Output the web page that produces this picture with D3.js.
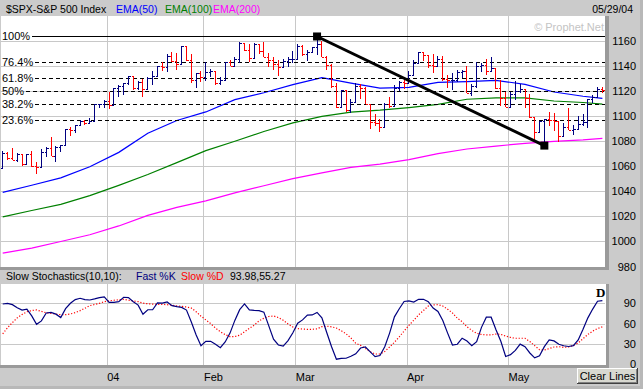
<!DOCTYPE html>
<html>
<head>
<meta charset="utf-8">
<script src="https://cdn.jsdelivr.net/npm/d3@7"></script>
<style>
  body { margin: 0; background: #cbcbcb; }
  svg { display: block; font-family: Arial, "Liberation Sans", sans-serif; }
</style>
</head>
<body>
<svg id="chart"></svg>
<script>
// trading days shown on the chart
var days = [
  "2003-12-01","2003-12-02","2003-12-03","2003-12-04","2003-12-05","2003-12-08","2003-12-09","2003-12-10","2003-12-11","2003-12-12",
  "2003-12-15","2003-12-16","2003-12-17","2003-12-18","2003-12-19","2003-12-22","2003-12-23","2003-12-24","2003-12-26","2003-12-29",
  "2003-12-30","2003-12-31",
  "2004-01-02","2004-01-05","2004-01-06","2004-01-07","2004-01-08","2004-01-09","2004-01-12","2004-01-13","2004-01-14","2004-01-15",
  "2004-01-16","2004-01-20","2004-01-21","2004-01-22","2004-01-23","2004-01-26","2004-01-27","2004-01-28","2004-01-29","2004-01-30",
  "2004-02-02","2004-02-03","2004-02-04","2004-02-05","2004-02-06","2004-02-09","2004-02-10","2004-02-11","2004-02-12","2004-02-13",
  "2004-02-17","2004-02-18","2004-02-19","2004-02-20","2004-02-23","2004-02-24","2004-02-25","2004-02-26","2004-02-27",
  "2004-03-01","2004-03-02","2004-03-03","2004-03-04","2004-03-05","2004-03-08","2004-03-09","2004-03-10","2004-03-11","2004-03-12",
  "2004-03-15","2004-03-16","2004-03-17","2004-03-18","2004-03-19","2004-03-22","2004-03-23","2004-03-24","2004-03-25","2004-03-26",
  "2004-03-29","2004-03-30","2004-03-31",
  "2004-04-01","2004-04-02","2004-04-05","2004-04-06","2004-04-07","2004-04-08","2004-04-12","2004-04-13","2004-04-14","2004-04-15",
  "2004-04-16","2004-04-19","2004-04-20","2004-04-21","2004-04-22","2004-04-23","2004-04-26","2004-04-27","2004-04-28","2004-04-29",
  "2004-04-30",
  "2004-05-03","2004-05-04","2004-05-05","2004-05-06","2004-05-07","2004-05-10","2004-05-11","2004-05-12","2004-05-13","2004-05-14",
  "2004-05-17","2004-05-18","2004-05-19","2004-05-20","2004-05-21","2004-05-24","2004-05-25","2004-05-26","2004-05-27","2004-05-28"
];

var opens = [
  1058.2,1070.1,1066.6,1064.7,1069.7,1061.5,1069.3,1060.2,1059.1,1071.2,1074.1,1068.0,1075.1,1076.5,1089.2,1088.7,1092.9,1096.0,1094.0,1095.9,1109.5,1109.6,
  1111.9,1108.5,1122.2,1123.7,1126.3,1131.9,1121.9,1127.2,1121.2,1130.5,1132.1,1139.8,1138.8,1147.6,1143.9,1141.6,1155.4,1144.1,1128.5,1134.1,
  1131.1,1135.3,1136.0,1126.5,1128.6,1142.8,1139.8,1145.5,1157.8,1152.1,1145.8,1157.0,1151.8,1147.1,1144.1,1141.0,1139.1,1143.7,1144.9,
  1144.9,1156.0,1149.1,1151.0,1154.9,1156.9,1147.2,1140.6,1123.9,1106.8,1120.6,1104.5,1110.7,1123.8,1122.3,1109.8,1095.4,1094.0,1091.3,1109.2,1108.1,1122.5,1127.0,
  1126.2,1132.2,1141.8,1150.6,1148.2,1140.5,1139.3,1145.2,1129.4,1128.2,1128.8,1134.6,1135.8,1118.2,1124.1,1139.9,1140.6,1135.5,1138.1,1122.4,1113.9,
  1107.3,1117.5,1119.6,1121.5,1114.0,1098.7,1087.1,1095.5,1097.3,1096.4,1095.7,1084.1,1091.5,1088.7,1089.2,1093.6,1095.4,1113.1,1114.9,1121.3
];
var highs = [
  1071.7,1071.2,1074.3,1070.4,1069.7,1069.6,1071.9,1063.0,1073.6,1074.8,1082.8,1075.9,1076.5,1089.5,1091.1,1092.9,1096.9,1096.4,1098.5,1109.5,1109.8,1112.6,
  1118.9,1122.4,1124.5,1126.3,1131.9,1131.9,1127.9,1129.1,1130.8,1136.0,1139.8,1142.9,1149.2,1150.5,1150.3,1155.4,1155.4,1149.1,1134.4,1135.5,
  1142.5,1137.4,1136.0,1131.2,1142.8,1144.5,1147.0,1158.9,1157.8,1156.9,1158.2,1157.4,1158.6,1149.8,1146.7,1144.2,1145.2,1147.2,1151.7,
  1157.5,1156.5,1152.4,1154.9,1163.2,1159.9,1147.3,1141.5,1126.0,1120.6,1120.6,1113.8,1125.8,1125.5,1122.7,1109.8,1101.5,1097.2,1110.4,1115.3,1124.4,1127.6,1130.8,
  1135.7,1144.8,1150.6,1150.6,1148.2,1149.0,1147.3,1147.8,1132.5,1134.1,1136.8,1136.2,1139.3,1125.7,1142.8,1141.9,1145.1,1146.6,1138.1,1128.4,1119.3,
  1118.7,1127.7,1125.1,1121.5,1117.3,1098.7,1095.7,1097.6,1102.8,1102.1,1095.7,1094.1,1105.9,1092.6,1099.6,1101.3,1113.8,1116.7,1123.0,1122.7
];
var lows = [
  1058.2,1065.2,1064.6,1063.2,1060.1,1060.9,1059.2,1053.4,1059.1,1067.6,1068.0,1063.2,1071.1,1076.5,1084.2,1086.1,1091.8,1092.7,1094.0,1095.9,1106.4,1106.2,
  1105.1,1108.5,1115.0,1116.4,1124.9,1120.9,1120.9,1115.2,1121.2,1124.3,1132.1,1135.4,1134.6,1143.0,1136.9,1141.0,1144.0,1126.5,1122.4,1127.3,
  1127.9,1131.3,1124.7,1124.4,1127.9,1139.8,1138.7,1142.3,1151.4,1143.2,1145.8,1149.5,1146.9,1139.0,1136.7,1131.4,1138.3,1138.6,1141.8,
  1144.9,1147.7,1143.8,1149.8,1148.8,1146.9,1136.8,1122.5,1105.9,1106.8,1103.4,1102.6,1110.7,1113.3,1109.7,1089.5,1091.6,1087.2,1091.3,1106.1,1108.1,1119.7,1121.5,
  1126.2,1132.2,1141.6,1143.3,1138.4,1134.5,1139.3,1127.7,1122.2,1120.8,1126.9,1129.8,1118.1,1116.0,1121.9,1134.8,1132.9,1135.5,1121.7,1108.0,1107.2,
  1107.3,1112.9,1117.9,1106.3,1098.6,1079.6,1087.1,1076.3,1091.8,1088.2,1079.4,1084.1,1088.5,1085.0,1089.2,1091.8,1090.7,1109.9,1114.9,1118.1
];
var closes = [
  1070.1,1066.6,1064.7,1069.7,1061.5,1069.3,1060.2,1059.1,1071.2,1074.1,1068.0,1075.1,1076.5,1089.2,1088.7,1092.9,1096.0,1094.0,1095.9,1109.5,1109.6,1111.9,
  1108.5,1122.2,1123.7,1126.3,1131.9,1121.9,1127.2,1121.2,1130.5,1132.1,1139.8,1138.8,1147.6,1143.9,1141.6,1155.4,1144.1,1128.5,1134.1,1131.1,
  1135.3,1136.0,1126.5,1128.6,1142.8,1139.8,1145.5,1157.8,1152.1,1145.8,1157.0,1151.8,1147.1,1144.1,1141.0,1139.1,1143.7,1144.9,1144.9,
  1156.0,1149.1,1151.0,1154.9,1156.9,1147.2,1140.6,1123.9,1106.8,1120.6,1104.5,1110.7,1123.8,1122.3,1109.8,1095.4,1094.0,1091.3,1109.2,1108.1,1122.5,1127.0,1126.2,
  1132.2,1141.8,1150.6,1148.2,1140.5,1139.3,1145.2,1129.4,1128.2,1128.8,1134.6,1135.8,1118.2,1124.1,1139.9,1140.6,1135.5,1138.1,1122.4,1113.9,1107.3,
  1117.5,1119.6,1121.5,1114.0,1098.7,1087.1,1095.5,1097.3,1096.4,1095.7,1084.1,1091.5,1088.7,1089.2,1093.6,1095.4,1113.1,1114.9,1121.3,1120.7
];

// moving averages at every 6th bar
var emaIdx = [0, 6, 12, 18, 24, 30, 36, 42, 48, 54, 60, 66, 72, 78, 84, 90, 96, 102, 108, 114, 120, 124];
var ema50  = [1039.1,1044.7,1050.6,1059.4,1070.9,1086.2,1096.3,1103.1,1112.9,1118.4,1124.8,1130.4,1126.0,1122.0,1122.7,1126.6,1127.2,1128.3,1125.0,1119.0,1115.6,1113.9];
var ema100 = [1019.5,1024.6,1029.5,1036.4,1044.6,1053.3,1062.7,1072.3,1079.8,1087.5,1094.4,1099.5,1103.0,1104.5,1106.6,1109.2,1113.2,1114.3,1114.3,1111.8,1110.6,1109.4];
var ema200 = [990.7,994.7,999.9,1005.3,1012.3,1020.7,1027.1,1032.3,1038.7,1044.3,1050.0,1054.5,1058.9,1061.6,1065.1,1069.9,1073.6,1075.9,1078.1,1079.6,1080.8,1082.1];

// slow stochastics (10,10)
var stochK = [
  89,90,88,83.5,80,81.5,71.5,59,64,75.7,76.7,74,69,82,90,95.5,97.4,95.5,94.9,96.5,98.3,99.6,
  91.5,91.5,92.5,98.9,98.5,92.2,87.3,73.8,80.5,80.5,90.5,90.3,92,86.5,85,84,80,62.5,43.3,27.5,
  33.8,34,29.5,24.5,33,46,64.8,80.6,89,80.2,79.5,79.2,77,57,37,28.5,26.8,35,46.5,
  60.6,65.5,72.7,72.8,76.5,68.5,47,26,7.5,8.6,8.9,11.8,15.5,24,25.5,18.4,11.3,13,26,46,70,82,92.7,
  93.5,91.8,95.9,95.9,92.5,83,78,64.6,46,28.5,29.6,38.5,34.3,27.6,33.4,54.5,69.5,69.5,51,34,11.5,
  14.2,20.5,29.8,26.1,16.7,9.5,12.5,26,36,34.5,29.5,27.4,26.3,27.5,36,51.7,68.5,81.5,93,93.98
];
var stochD = [
  45,54,61.5,68.5,73.5,77.5,79.3,80.2,78,76,75,74,73.2,73.2,74.3,76.2,79.2,82.7,86.5,88.3,90,92.3,
  93.7,94.5,95.2,95.9,94.5,93.6,92.5,90.2,89.3,88.8,88.5,88.5,88,87.1,86.1,85.4,84.6,83,77.5,71,
  65.5,60,53.5,48,43.8,40.8,40.8,43,48,53,57.8,64,68,70.5,71.3,69,65,59.5,55,
  52.6,52,51.6,51.6,52.3,55.6,56.3,55.3,53.5,49.5,45,38.8,31,28,23.3,18.5,15.2,15.2,18.9,25.5,32.5,40.6,49,
  57.5,65,73,79.3,86,87.5,88,86,81.3,75.8,68,62.8,55.3,50,45.7,44,43.3,43.3,44.6,44.2,41.6,
  39.7,38.4,38.4,38.4,33.6,27.5,21.5,21.1,23.2,25.5,26,25,25.5,27.8,31.5,37.8,44,49,52.7,55.27
];

var priceTicks = [980, 1000, 1020, 1040, 1060, 1080, 1100, 1120, 1140, 1160];
var stochTicks = [0, 30, 60, 90];
var monthKeys = ["2004-01", "2004-02", "2004-03", "2004-04", "2004-05"];
var monthLabels = ["04", "Feb", "Mar", "Apr", "May"];
var fibLevels = [1, 0.764, 0.618, 0.5, 0.382, 0.236];
var fibLabels = ["100%", "76.4%", "61.8%", "50%", "38.2%", "23.6%"];

var width = 643, height = 389;
var plotRight = 605;
var priceTop = 16, priceBottom = 267;
var stochTop = 284, stochBottom = 365;
var bg = "#cbcbcb", grid = "#c8c8c8";
var fs = 10.5;

var svg = d3.select("#chart").attr("width", width).attr("height", height);

svg.append("rect").attr("width", width).attr("height", height).attr("fill", bg);

// panels
svg.append("rect").attr("x", 1).attr("y", priceTop).attr("width", plotRight - 1).attr("height", priceBottom - priceTop).attr("fill", "#fff");
svg.append("rect").attr("x", 1).attr("y", stochTop).attr("width", plotRight).attr("height", stochBottom - stochTop).attr("fill", "#fff");

var xScale = d3.scaleBand()
  .domain(d3.range(days.length))
  .range([0.3, 604.8]);
var bw = xScale.bandwidth();
function cx(i) { return Math.floor(xScale(i) + bw / 2) + 0.5; }

var yScale = d3.scaleLinear().domain([980, 1160]).range([266.5, 40.5]);
var sScale = d3.scaleLinear().domain([0, 90]).range([364.3, 303.3]);

var monthIdx = monthKeys.map(function(m) {
  return days.findIndex(function(d) { return d.slice(0, 7) === m; });
});

// gridlines
var gridG = svg.append("g").attr("stroke", grid).attr("stroke-width", 1).attr("shape-rendering", "crispEdges");
priceTicks.forEach(function(v) {
  var y = Math.round(yScale(v)) + 0.5;
  gridG.append("line").attr("x1", 1).attr("x2", plotRight).attr("y1", y).attr("y2", y);
});
[30, 60, 90].forEach(function(v) {
  var y = Math.round(sScale(v)) + 0.5;
  gridG.append("line").attr("x1", 1).attr("x2", plotRight).attr("y1", y).attr("y2", y);
});
monthIdx.forEach(function(i) {
  var x = Math.round(xScale(i)) + 0.5;
  gridG.append("line").attr("x1", x).attr("x2", x).attr("y1", priceTop).attr("y2", priceBottom);
  gridG.append("line").attr("x1", x).attr("x2", x).attr("y1", stochTop).attr("y2", stochBottom);
});

// moving averages
var emaLine = d3.line()
  .x(function(d) { return xScale(d[0]) + bw / 2; })
  .y(function(d) { return yScale(d[1]); });
[[ema50, "#0000ff"], [ema100, "#008000"], [ema200, "#ff00ff"]].forEach(function(s) {
  svg.append("path")
    .datum(emaIdx.map(function(i, k) { return [i, s[0][k]]; }))
    .attr("d", emaLine)
    .attr("fill", "none")
    .attr("stroke", s[1])
    .attr("stroke-width", 1.2);
});

// swing high / low for fibonacci levels
var hiIdx = d3.maxIndex(highs);
var loIdx = hiIdx + d3.minIndex(lows.slice(hiIdx));
var hi = highs[hiIdx], lo = lows[loIdx];

var fibG = svg.append("g");
fibLevels.forEach(function(f, k) {
  var y = Math.round(yScale(lo + (hi - lo) * f)) + 0.5;
  var t = fibG.append("text")
    .attr("x", 2)
    .attr("y", y)
    .attr("dy", "0.35em")
    .attr("font-size", 11)
    .attr("fill", "#000")
    .text(fibLabels[k]);
  var x0 = 2 + t.node().getComputedTextLength() + 2;
  fibG.append("line")
    .attr("x1", x0).attr("x2", plotRight)
    .attr("y1", y).attr("y2", y)
    .attr("stroke", "#000")
    .attr("stroke-width", 1)
    .attr("shape-rendering", "crispEdges")
    .attr("stroke-dasharray", f === 1 ? null : "4,3");
});

// OHLC bars
svg.append("g")
  .attr("shape-rendering", "crispEdges")
  .selectAll("path")
  .data(days)
  .enter()
  .append("path")
    .attr("d", function(d, i) {
      var x = cx(i);
      var yo = Math.round(yScale(opens[i])) + 0.5;
      var yc = Math.round(yScale(closes[i])) + 0.5;
      return "M" + x + "," + yScale(highs[i]) + "V" + yScale(lows[i]) +
             "M" + (x - 2) + "," + yo + "H" + x +
             "M" + x + "," + yc + "H" + (x + 2);
    })
    .attr("fill", "none")
    .attr("stroke-width", 1)
    .attr("stroke", function(d, i) { return closes[i] < opens[i] ? "#ff0000" : "#000080"; });

// trend line between swing high and swing low
var p1 = [xScale(hiIdx) + bw / 2, yScale(hi)];
var p2 = [xScale(loIdx) + bw / 2, yScale(lo)];
svg.append("line")
  .attr("x1", p1[0]).attr("y1", p1[1])
  .attr("x2", p2[0]).attr("y2", p2[1])
  .attr("stroke", "#000")
  .attr("stroke-width", 3);
[p1, p2].forEach(function(p) {
  svg.append("rect")
    .attr("x", p[0] - 4).attr("y", p[1] - 4)
    .attr("width", 8).attr("height", 8)
    .attr("fill", "#000");
});

// stochastics
var kLine = d3.line()
  .x(function(d, i) { return xScale(i) + bw / 2; })
  .y(function(d) { return sScale(d); });
svg.append("path").datum(stochD).attr("d", kLine)
  .attr("fill", "none").attr("stroke", "#ff0000").attr("stroke-width", 1.2).attr("stroke-dasharray", "1.2,1.8");
svg.append("path").datum(stochK).attr("d", kLine)
  .attr("fill", "none").attr("stroke", "#000080").attr("stroke-width", 1.2);

svg.append("text")
  .attr("x", xScale(days.length - 1) - 4).attr("y", 297)
  .attr("font-family", "'Liberation Serif', 'Times New Roman', serif")
  .attr("font-weight", "bold").attr("font-size", 13)
  .text("D");

// panel borders
var borderG = svg.append("g").attr("fill", "#9a9a9a");
borderG.append("rect").attr("x", 605).attr("y", priceTop).attr("width", 4).attr("height", priceBottom - priceTop + 3);
borderG.append("rect").attr("x", 0).attr("y", priceBottom).attr("width", 609).attr("height", 3);
borderG.append("rect").attr("x", 606).attr("y", stochTop).attr("width", 3).attr("height", stochBottom - stochTop + 3);
borderG.append("rect").attr("x", 0).attr("y", stochBottom).attr("width", 609).attr("height", 3);
borderG.append("rect").attr("x", 0).attr("y", height - 3).attr("width", width).attr("height", 3).attr("fill", "#b8b8b8");
borderG.append("rect").attr("x", width - 3).attr("y", 0).attr("width", 3).attr("height", height).attr("fill", "#b8b8b8");

// axes
var yAxis = d3.axisRight(yScale).tickValues(priceTicks).tickFormat(d3.format("d")).tickSize(0).tickPadding(0);
svg.append("g")
  .attr("transform", "translate(636,0)")
  .call(yAxis)
  .attr("font-size", 11)
  .attr("font-family", null)
  .call(function(g) { g.select(".domain").remove(); })
  .selectAll("text").attr("text-anchor", "end").attr("fill", "#000");

var sAxis = d3.axisRight(sScale).tickValues(stochTicks).tickFormat(d3.format("d")).tickSize(0).tickPadding(0);
svg.append("g")
  .attr("transform", "translate(636,0)")
  .call(sAxis)
  .attr("font-size", 11)
  .attr("font-family", null)
  .call(function(g) { g.select(".domain").remove(); })
  .selectAll("text").attr("text-anchor", "end").attr("fill", "#000");

var xAxis = d3.axisBottom(xScale)
  .tickValues(monthIdx)
  .tickFormat(function(d, k) { return monthLabels[k]; })
  .tickSize(0)
  .tickPadding(3);
svg.append("g")
  .attr("transform", "translate(0,370)")
  .call(xAxis)
  .attr("font-size", 11)
  .attr("font-family", null)
  .call(function(g) { g.select(".domain").remove(); })
  .selectAll("text").attr("text-anchor", "start").attr("x", -bw / 2 + 0.5).attr("fill", "#000");

// header texts
var head = svg.append("text").attr("x", 6).attr("y", 13).attr("font-size", fs);
head.append("tspan").attr("fill", "#000").text("$SPX-S&P 500 Index");
head.append("tspan").attr("x", 116).attr("fill", "#0000ff").text("EMA(50)");
head.append("tspan").attr("x", 165).attr("fill", "#008000").text("EMA(100)");
head.append("tspan").attr("x", 213).attr("fill", "#ff00ff").text("EMA(200)");

svg.append("text").attr("x", 633).attr("y", 13).attr("font-size", fs)
  .attr("text-anchor", "end").text("05/29/04");

svg.append("text").attr("x", 604).attr("y", 31).attr("font-size", 11)
  .attr("text-anchor", "end").attr("fill", "#c4c4c4").text("\u00a9 Prophet.Net");

var fmt = d3.format(".2f");
var sl = svg.append("text").attr("x", 6).attr("y", 280).attr("font-size", fs);
sl.append("tspan").attr("fill", "#000").text("Slow Stochastics(10,10):");
sl.append("tspan").attr("x", 136).attr("fill", "#000080").text("Fast %K");
sl.append("tspan").attr("x", 181).attr("fill", "#ff0000").text("Slow %D");
sl.append("tspan").attr("x", 230).attr("fill", "#000").text(fmt(stochK[stochK.length - 1]) + "," + fmt(stochD[stochD.length - 1]));

// clear lines button
var btn = svg.append("g").attr("transform", "translate(577,368)").attr("shape-rendering", "crispEdges");
btn.append("rect").attr("width", 61).attr("height", 16).attr("fill", "#404040");
btn.append("rect").attr("width", 60).attr("height", 15).attr("fill", "#ffffff");
btn.append("rect").attr("x", 1).attr("y", 1).attr("width", 59).attr("height", 14).attr("fill", "#808080");
btn.append("rect").attr("x", 1).attr("y", 1).attr("width", 58).attr("height", 13).attr("fill", "#d8d8d0");
btn.append("text").attr("x", 30.5).attr("y", 12).attr("text-anchor", "middle")
  .attr("font-size", 11).attr("shape-rendering", null).text("Clear Lines");
</script>
</body>
</html>
